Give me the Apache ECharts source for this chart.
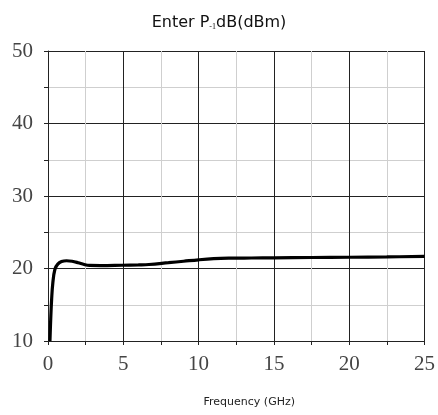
<!DOCTYPE html>
<html>
<head>
<meta charset="utf-8">
<script src="https://cdn.jsdelivr.net/npm/echarts@6/dist/echarts.min.js"></script>
<style>
  html, body { margin: 0; padding: 0; background: #fff; }
  #chart { width: 438px; height: 415px; }
</style>
</head>
<body>
<div id="chart"></div>
<script>
// frequency (GHz) and input P-1dB (dBm)
const freq = [0.13, 0.18, 0.24, 0.32, 0.46, 0.65, 0.9, 1.23, 1.6, 2.0, 2.4, 2.76, 3.5, 4.9, 6.0, 6.7, 8.0, 9.0, 10.0, 11.0, 12.0, 13.5, 15.0, 17.5, 20.0, 22.5, 25.0];
const p1db = [10.0, 13.0, 15.7, 18.0, 19.9, 20.6, 20.95, 21.07, 21.0, 20.8, 20.55, 20.42, 20.4, 20.45, 20.5, 20.55, 20.8, 21.0, 21.2, 21.35, 21.42, 21.45, 21.47, 21.52, 21.55, 21.6, 21.68];
const xMajor = [0, 5, 10, 15, 20, 25];
const yMajor = [10, 20, 30, 40, 50];

const chart = echarts.init(document.getElementById('chart'));
const tickFont = { fontFamily: 'Liberation Serif', fontSize: 21, color: '#444' };

chart.setOption({
  animation: false,
  title: {
    text: '{a|Enter P}{s|-1}{a|dB(dBm)}',
    left: 'center',
    top: 10,
    textStyle: {
      rich: {
        a: { fontFamily: 'DejaVu Sans', fontSize: 16, fontWeight: 'normal', color: '#111' },
        s: { fontFamily: 'Liberation Serif', fontSize: 8, fontWeight: 'normal', color: '#111', padding: [7, 0, 0, 0] }
      }
    }
  },
  grid: { left: 48, right: 10, top: 51, bottom: 74 },
  xAxis: {
    type: 'value',
    min: 0,
    max: 25,
    interval: 2.5,
    name: 'Frequency (GHz)',
    nameLocation: 'middle',
    nameGap: 56,
    nameTextStyle: { fontFamily: 'DejaVu Sans', fontSize: 11, color: '#222', padding: [0, 0, 0, 26] },
    axisLine: { lineStyle: { color: '#222', width: 1 } },
    axisTick: { show: true, length: 4, lineStyle: { color: '#222' } },
    axisLabel: {
      margin: 13,
      ...tickFont,
      formatter: (v) => (xMajor.includes(v) ? String(v) : '')
    },
    splitLine: { show: true, lineStyle: { color: ['#222', '#cfcfcf'], width: 1 } }
  },
  yAxis: {
    type: 'value',
    min: 10,
    max: 50,
    interval: 5,
    axisLine: { show: true, lineStyle: { color: '#222', width: 1 } },
    axisTick: { show: true, length: 4, lineStyle: { color: '#222' } },
    axisLabel: {
      margin: 15,
      ...tickFont,
      formatter: (v) => (yMajor.includes(v) ? String(v) : '')
    },
    splitLine: { show: true, lineStyle: { color: ['#222', '#cfcfcf'], width: 1 } }
  },
  series: [{
    type: 'line',
    data: freq.map((f, i) => [f, p1db[i]]),
    smooth: 0.4,
    showSymbol: false,
    lineStyle: { color: '#000', width: 3.2 }
  }]
});
</script>
</body>
</html>
